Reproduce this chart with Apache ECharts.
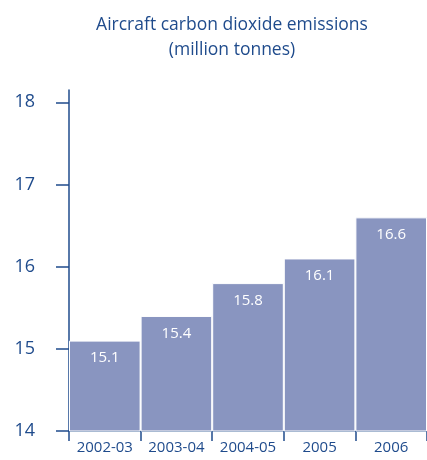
<!DOCTYPE html>
<html><head><meta charset="utf-8">
<script src="https://cdn.jsdelivr.net/npm/echarts@6/dist/echarts.min.js"></script>
<style>html,body{margin:0;padding:0;background:#fff}#c{width:427px;height:460px}</style>
</head><body><div id="c"></div>
<script>
const categories = ['2002-03', '2003-04', '2004-05', '2005', '2006'];
const emissions = [15.1, 15.4, 15.8, 16.1, 16.6];
const yTicks = [14, 15, 16, 17, 18];
const titleText = 'Aircraft carbon dioxide emissions\n(million tonnes)';

const blue = '#1f4b8c';
const chart = echarts.init(document.getElementById('c'));
chart.setOption({
  animation: false,
  title: {
    text: titleText,
    left: 227, top: 8, textAlign: 'center',
    textStyle: { color: blue, fontFamily: 'Open Sans', fontSize: 17.5, fontWeight: 'normal', lineHeight: 25 }
  },
  grid: { left: 69, right: 0, top: 90, bottom: 29, containLabel: false },
  xAxis: {
    type: 'category', data: categories,
    axisLine: { lineStyle: { color: blue, width: 1.5 } },
    axisTick: { show: true, interval: 0, length: 10, lineStyle: { color: blue, width: 1.5 } },
    axisLabel: { interval: 0, hideOverlap: false, color: blue, fontFamily: 'Open Sans', fontSize: 15, margin: 9 }
  },
  yAxis: {
    type: 'value', min: 14, max: 18.15,
    splitLine: { show: false },
    axisLine: { show: true, lineStyle: { color: blue, width: 1.5 } },
    axisTick: { show: true, length: 13, customValues: yTicks, lineStyle: { color: blue, width: 1.5 } },
    axisLabel: { color: blue, fontFamily: 'Open Sans', fontSize: 18, margin: 34, customValues: yTicks }
  },
  series: [{
    type: 'bar', data: emissions, barCategoryGap: '0%',
    itemStyle: { color: '#8995c0', borderColor: '#ffffff', borderWidth: 1 },
    label: { show: true, position: 'insideTop', distance: 10, color: '#ffffff', fontFamily: 'Open Sans', fontSize: 15, fontWeight: 500 }
  }]
});
</script></body></html>
